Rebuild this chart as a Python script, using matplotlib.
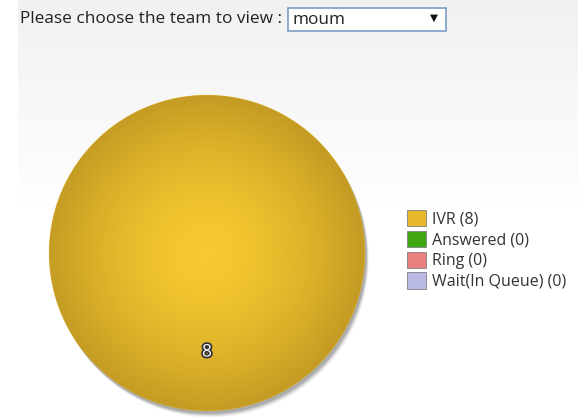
import numpy as np
import matplotlib.pyplot as plt
from matplotlib.patches import Rectangle, Circle
import matplotlib.patheffects as pe

W, H = 578, 417

# data
categories = ["IVR", "Answered", "Ring", "Wait(In Queue)"]
counts = [8, 0, 0, 0]
colors = ["#e8b92c", "#3fa511", "#ea7f7f", "#b9b9e6"]
team = "moum"

plt.rcParams['font.family'] = ['Open Sans', 'DejaVu Sans']

fig = plt.figure(figsize=(W / 100, H / 100), dpi=100)
fig.patch.set_facecolor("white")

# background gradient of the chart area
bg = fig.add_axes([18 / W, 0, 1 - 18 / W, 1])
grad = np.linspace(0, 1, 256)
shade = np.clip(grad * 2.0, 0, 1)
img = np.zeros((256, 1, 3))
top = np.array([0.945, 0.945, 0.945])
for i in range(3):
    img[:, 0, i] = top[i] + (1.0 - top[i]) * shade
bg.imshow(img, aspect="auto", extent=[0, 1, 0, 1], origin="upper")
bg.axis("off")

# header
fig.text(20 / W, 1 - 19 / H, "Please choose the team to view :", fontsize=12.4,
         color="#222222", va="center", ha="left")
fig.add_artist(Rectangle((288 / W, 1 - 31 / H), 158 / W, 23 / H, transform=fig.transFigure,
                         facecolor="white", edgecolor="#7a9cc6", linewidth=1.2))
fig.text(293 / W, 1 - 20 / H, team, fontsize=12.4, color="#222222", va="center", ha="left")
fig.text(434 / W, 1 - 18 / H, "\u25bc", fontsize=7.5, color="#111111", va="center", ha="center",
         family="DejaVu Sans")

# pie axes
cx, cy, R = 207, 253, 158
S = R * 1.05
ax = fig.add_axes([(cx - S) / W, (H - cy - S) / H, 2 * S / W, 2 * S / H])

wedges, texts, autotexts = ax.pie(
    counts, colors=colors, startangle=90, counterclock=True,
    autopct=lambda p: "%d" % round(p * sum(counts) / 100) if p > 0 else "",
    pctdistance=0.63, radius=1.0,
    wedgeprops=dict(edgecolor="none"), textprops=dict(color="white", fontsize=12.5))
ax.set_aspect("equal")
ax.axis("off")
for w in wedges:
    w.set_zorder(3)

# shadow
for k, a in enumerate([0.05, 0.07, 0.10, 0.14]):
    off = 0.04 - k * 0.007
    ax.add_patch(Circle((off * 0.6, -off), 1.0, facecolor="black", alpha=a, zorder=1,
                        edgecolor="none"))

# radial shading over the main slice (it covers the whole disc)
n = 500
xs = np.linspace(-1.05, 1.05, n)
X, Y = np.meshgrid(xs, xs)
r = np.sqrt(X ** 2 + Y ** 2)
rc = np.sqrt((X + 0.01) ** 2 + (Y - 0.0) ** 2)
light = np.array([0.97, 0.79, 0.19])
dark = np.array([0.77, 0.61, 0.14])
t = np.clip(rc, 0, 1) ** 1.6
rgba = np.zeros((n, n, 4))
rgba[..., :3] = light[None, None, :] * (1 - t[..., None]) + dark[None, None, :] * t[..., None]
rgba[..., 3] = np.clip((1 - r) * n / 2.1 + 0.5, 0, 1)
ax.imshow(rgba, extent=[-1.05, 1.05, -1.05, 1.05], origin="lower", zorder=4,
          interpolation="bilinear")
ax.set_xlim(-1.05, 1.05)
ax.set_ylim(-1.05, 1.05)

for at in autotexts:
    at.set_zorder(6)
    at.set_path_effects([pe.withStroke(linewidth=2.5, foreground="#333333")])

# legend
handles = []
labels = []
for c, v, name in zip(colors, counts, categories):
    handles.append(Rectangle((0, 0), 1, 1, facecolor=c, edgecolor="#808080", linewidth=0.6))
    labels.append("%s (%d)" % (name, v))
leg = fig.legend(handles, labels, loc="center left", bbox_to_anchor=(407 / W, 1 - 250 / H),
                 frameon=False, fontsize=11.5, handlelength=1.2, handleheight=1.2,
                 handletextpad=0.37, labelspacing=0.2, borderaxespad=0, borderpad=0)
for tx in leg.get_texts():
    tx.set_color("#333333")

fig.savefig("out.png", dpi=100)
